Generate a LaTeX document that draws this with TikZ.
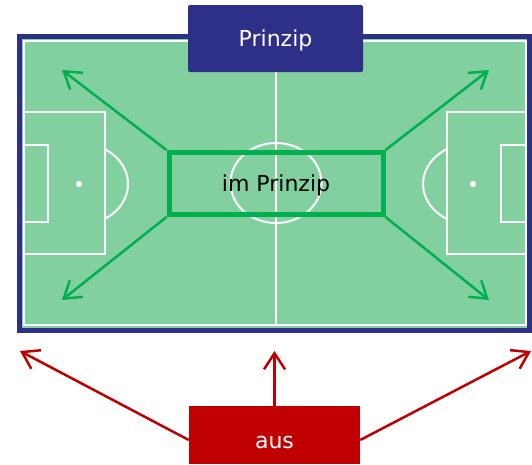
\documentclass[tikz,border=0pt]{standalone}
\usepackage{fontspec}
\setmainfont{DejaVu Sans}
\usetikzlibrary{arrows.meta, positioning}
\definecolor{feldblau}{HTML}{2E3087}
\definecolor{rasen}{HTML}{82CF9F}
\definecolor{gruen}{HTML}{00B050}
\definecolor{rot}{HTML}{C00000}
\tikzset{
  titel/.style={rectangle,fill=feldblau,rounded corners=2pt,text=white,minimum width=175pt,minimum height=67pt,inner sep=0pt,text height=21pt,text depth=5pt,font=\fontsize{22}{26}\selectfont},
  kern/.style={rectangle,draw=gruen,line width=5pt,minimum width=214pt,minimum height=62pt,inner sep=0pt,text height=21pt,text depth=5pt,font=\fontsize{22}{26}\selectfont},
  ausbox/.style={rectangle,fill=rot,text=white,minimum width=171pt,minimum height=58pt,inner sep=0pt,text height=26pt,text depth=0pt,font=\fontsize{22}{26}\selectfont},
  linie/.style={white,line width=2pt},
  gline/.style={draw=gruen,line width=2.5pt,-{Straight Barb[length=16pt,width=21pt]}},
  rline/.style={draw=rot,line width=2.5pt,-{Straight Barb[length=16pt,width=21pt]}}
}

\begin{document}
\begin{tikzpicture}[x=1pt,y=-1pt]
\useasboundingbox (0,0) rectangle (532,464);
% Spielfeld
\fill[rasen] (17,34) rectangle (532,333);
\draw[feldblau,line width=5pt] (19.5,36.5) rectangle (529.5,330.5);
\draw[linie] (24,41) rectangle (525.5,325);
\draw[linie] (275.5,41) -- (275.5,325);
\draw[linie] (276,183) ellipse [x radius=45.5pt, y radius=40pt];
% linke Seite
\draw[linie] (24,112) -- (105,112) -- (105,254) -- (24,254);
\draw[linie] (24,145) -- (48,145) -- (48,222) -- (24,222);
\fill[white] (79,184) circle [radius=3pt];
\draw[linie] (79,184) ++(-58:49pt and 41pt) arc[start angle=-58,end angle=58,x radius=49pt,y radius=41pt];
% rechte Seite
\draw[linie] (525.5,112) -- (447,112) -- (447,254) -- (525.5,254);
\draw[linie] (525.5,145) -- (501,145) -- (501,222) -- (525.5,222);
\fill[white] (473,184) circle [radius=3pt];
\draw[linie] (473,184) ++(122:50pt and 41pt) arc[start angle=122,end angle=238,x radius=50pt,y radius=41pt];

\node[kern] (kern) at (276,183.5) {im Prinzip};
\node[titel] (titel) at (275.5,38.5) {Prinzip};
\node[ausbox] (aus) at (274.5,435) {aus};

\coordinate (ol) at (62,70);
\coordinate (ul) at (62,300);
\coordinate (or) at (489,70);
\coordinate (ur) at (489,300);
\coordinate (al) at (20,351);
\coordinate (am) at (274.5,351);
\coordinate (ar) at (531,351);

\draw[gline] (kern.north west) -- (ol);
\draw[gline] (kern.south west) -- (ul);
\draw[gline] (kern.north east) -- (or);
\draw[gline] (kern.south east) -- (ur);
\draw[rline] ([yshift=-5pt]aus.west) -- (al);
\draw[rline] (aus.north) -- (am);
\draw[rline] ([yshift=-5pt]aus.east) -- (ar);
\end{tikzpicture}
\end{document}
